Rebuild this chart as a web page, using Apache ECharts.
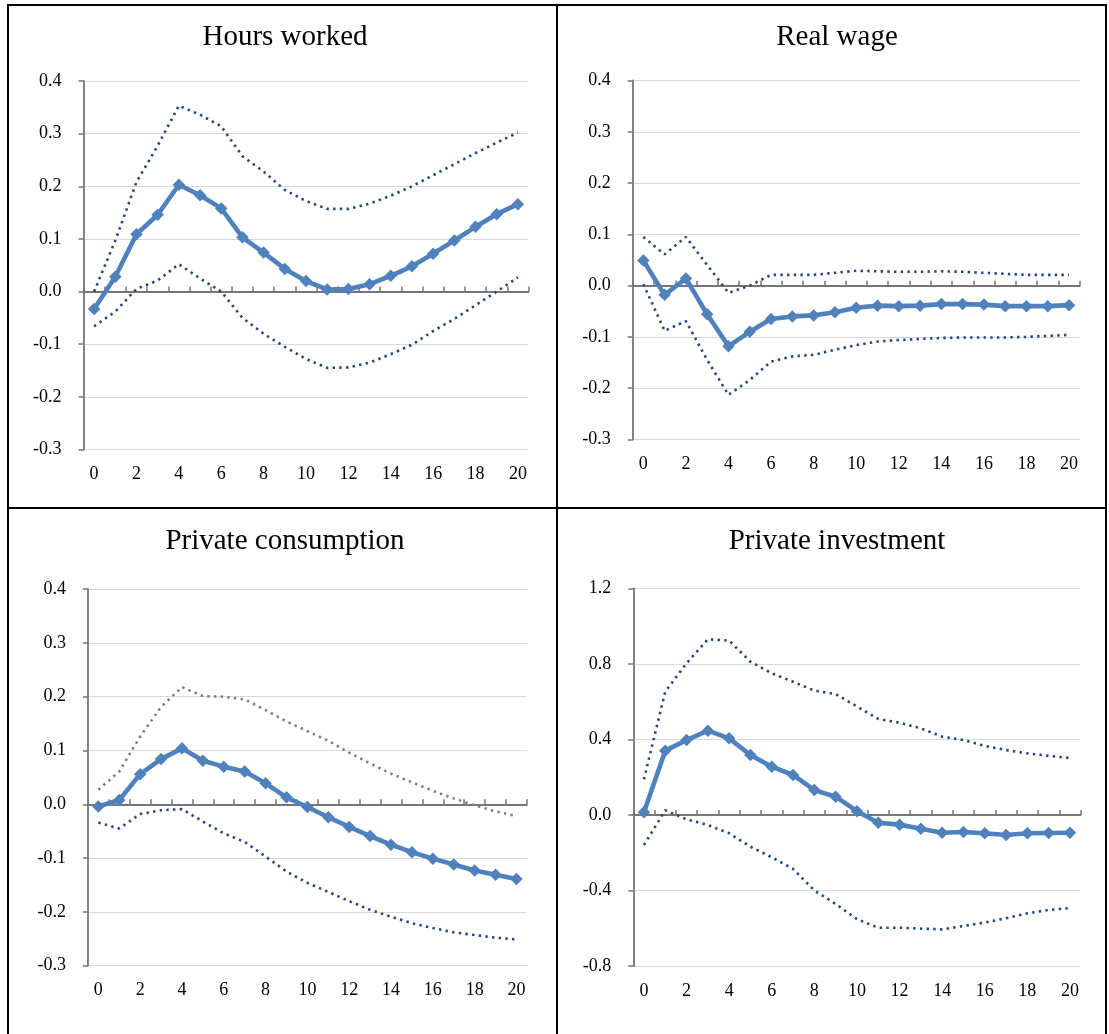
<!DOCTYPE html>
<html><head><meta charset="utf-8">
<script src="https://cdn.jsdelivr.net/npm/echarts@6/dist/echarts.min.js"></script>
<style>html,body{margin:0;padding:0;background:#fff}#c{width:1109px;height:1034px}</style>
</head><body><div id="c"></div>
<script>
const periods = ['0','1','2','3','4','5','6','7','8','9','10','11','12','13','14','15','16','17','18','19','20'];
const titles = ['Hours worked','Real wage','Private consumption','Private investment'];

const hoursMain  = [-0.033, 0.028, 0.109, 0.146, 0.203, 0.183, 0.158, 0.103, 0.074, 0.043, 0.020, 0.004, 0.005, 0.014, 0.030, 0.048, 0.072, 0.097, 0.123, 0.147, 0.166];
const hoursUpper = [0.000, 0.097, 0.208, 0.277, 0.353, 0.336, 0.314, 0.257, 0.228, 0.193, 0.172, 0.157, 0.157, 0.167, 0.182, 0.200, 0.221, 0.242, 0.263, 0.283, 0.302];
const hoursLower = [-0.066, -0.038, 0.005, 0.021, 0.052, 0.025, 0.000, -0.050, -0.080, -0.105, -0.128, -0.145, -0.144, -0.135, -0.119, -0.101, -0.075, -0.052, -0.026, 0.000, 0.027];

const wageMain  = [0.049, -0.018, 0.014, -0.056, -0.118, -0.090, -0.065, -0.060, -0.058, -0.052, -0.043, -0.039, -0.040, -0.039, -0.036, -0.036, -0.037, -0.040, -0.040, -0.040, -0.038];
const wageUpper = [0.095, 0.061, 0.095, 0.040, -0.014, 0.000, 0.021, 0.021, 0.021, 0.025, 0.029, 0.028, 0.027, 0.027, 0.028, 0.027, 0.025, 0.023, 0.021, 0.021, 0.021];
const wageLower = [0.003, -0.088, -0.069, -0.145, -0.213, -0.184, -0.148, -0.138, -0.135, -0.125, -0.116, -0.109, -0.106, -0.104, -0.102, -0.101, -0.101, -0.101, -0.100, -0.098, -0.096];

const consMain  = [-0.004, 0.008, 0.056, 0.084, 0.104, 0.081, 0.070, 0.061, 0.039, 0.013, -0.005, -0.024, -0.042, -0.059, -0.075, -0.089, -0.101, -0.112, -0.123, -0.131, -0.139];
const consUpper = [0.027, 0.061, 0.126, 0.181, 0.218, 0.201, 0.200, 0.195, 0.175, 0.154, 0.136, 0.118, 0.096, 0.076, 0.057, 0.041, 0.025, 0.011, -0.002, -0.013, -0.022];
const consLower = [-0.034, -0.045, -0.018, -0.011, -0.009, -0.032, -0.054, -0.070, -0.097, -0.125, -0.146, -0.163, -0.180, -0.196, -0.209, -0.221, -0.230, -0.238, -0.243, -0.248, -0.251];

const invMain  = [0.014, 0.341, 0.397, 0.447, 0.406, 0.318, 0.256, 0.212, 0.132, 0.097, 0.020, -0.041, -0.051, -0.073, -0.094, -0.090, -0.097, -0.106, -0.097, -0.095, -0.094];
const invUpper = [0.189, 0.653, 0.804, 0.931, 0.924, 0.812, 0.751, 0.706, 0.659, 0.641, 0.575, 0.509, 0.489, 0.459, 0.415, 0.397, 0.366, 0.344, 0.327, 0.313, 0.302];
const invLower = [-0.159, 0.025, -0.023, -0.053, -0.097, -0.168, -0.224, -0.285, -0.400, -0.471, -0.552, -0.597, -0.597, -0.602, -0.606, -0.588, -0.570, -0.547, -0.521, -0.503, -0.493];

const yMins = [-0.3, -0.3, -0.3, -0.8];
const yMaxs = [0.4, 0.4, 0.4, 1.2];
const yIntervals = [0.1, 0.1, 0.1, 0.4];

const panels = [
  {main: hoursMain, upper: hoursUpper, lower: hoursLower, upperColor: '#1F497D'},
  {main: wageMain, upper: wageUpper, lower: wageLower, upperColor: '#1F497D'},
  {main: consMain, upper: consUpper, lower: consLower, upperColor: '#7F7F7F'},
  {main: invMain, upper: invUpper, lower: invLower, upperColor: '#1F497D'}
];

const gridBoxes = [
  {left: 83.5, top: 81, width: 445, height: 368.5},
  {left: 632.7, top: 80.5, width: 447, height: 359},
  {left: 87.9, top: 589.1, width: 439, height: 376.6},
  {left: 633.3, top: 588.5, width: 447.3, height: 377.5}
];
const titlePos = [[285, 37], [837, 37], [285, 541], [837, 541]];

const FONT = 'Liberation Serif, Times New Roman, serif';
const grid = [], xAxis = [], yAxis = [], series = [], graphic = [];

gridBoxes.forEach((g, i) => {
  grid.push(Object.assign({containLabel: false}, g));
  xAxis.push({
    type: 'category', gridIndex: i, data: periods, boundaryGap: true, position: 'bottom',
    axisLine: {show: false, onZero: false}, axisTick: {show: false},
    axisLabel: {interval: 1, color: '#000', fontFamily: FONT, fontSize: 18, margin: 16},
    splitLine: {show: false}
  });
  xAxis.push({
    type: 'category', gridIndex: i, data: periods, boundaryGap: true, position: 'top',
    axisLine: {show: true, onZero: true, lineStyle: {color: '#767676', width: 1.8}},
    axisTick: {show: true, inside: false, length: 5, lineStyle: {color: '#767676', width: 1.5}},
    axisLabel: {show: false}, splitLine: {show: false}
  });
  yAxis.push({
    type: 'value', gridIndex: i, min: yMins[i], max: yMaxs[i], interval: yIntervals[i],
    axisLine: {show: true, onZero: false, lineStyle: {color: '#767676', width: 1.8}},
    axisTick: {show: true, length: 5, lineStyle: {color: '#767676', width: 1.5}},
    axisLabel: {color: '#000', fontFamily: FONT, fontSize: 18, margin: 22,
      formatter: v => v.toFixed(1)},
    splitLine: {show: true, lineStyle: {color: '#D9D9D9', width: 1}}
  });
  const p = panels[i];
  series.push({
    type: 'line', xAxisIndex: 2 * i, yAxisIndex: i, data: p.upper, symbol: 'none',
    lineStyle: {color: p.upperColor, width: 2.6, type: [2.4, 4.3]}, z: 3, silent: true
  });
  series.push({
    type: 'line', xAxisIndex: 2 * i, yAxisIndex: i, data: p.lower, symbol: 'none',
    lineStyle: {color: '#1F497D', width: 2.6, type: [2.4, 4.3]}, z: 3, silent: true
  });
  series.push({
    type: 'line', xAxisIndex: 2 * i, yAxisIndex: i, data: p.main, symbol: 'diamond', symbolSize: 12.5,
    lineStyle: {color: '#4F81BD', width: 4.6}, itemStyle: {color: '#4F81BD'}, z: 4, silent: true
  });
  graphic.push({
    type: 'text', x: titlePos[i][0], y: titlePos[i][1],
    style: {text: titles[i], font: '29px ' + FONT, fill: '#000', textAlign: 'center', textVerticalAlign: 'middle'}
  });
});

graphic.push({type: 'rect', shape: {x: 8, y: 5, width: 1098, height: 1045},
  style: {fill: 'none', stroke: '#000', lineWidth: 2}, z: 10});
graphic.push({type: 'line', shape: {x1: 557, y1: 5, x2: 557, y2: 1040},
  style: {stroke: '#000', lineWidth: 2}, z: 10});
graphic.push({type: 'line', shape: {x1: 8, y1: 508, x2: 1106, y2: 508},
  style: {stroke: '#000', lineWidth: 2}, z: 10});

const chart = echarts.init(document.getElementById('c'), null, {renderer: 'canvas'});
chart.setOption({animation: false, grid, xAxis, yAxis, series, graphic});
</script>
</body></html>
